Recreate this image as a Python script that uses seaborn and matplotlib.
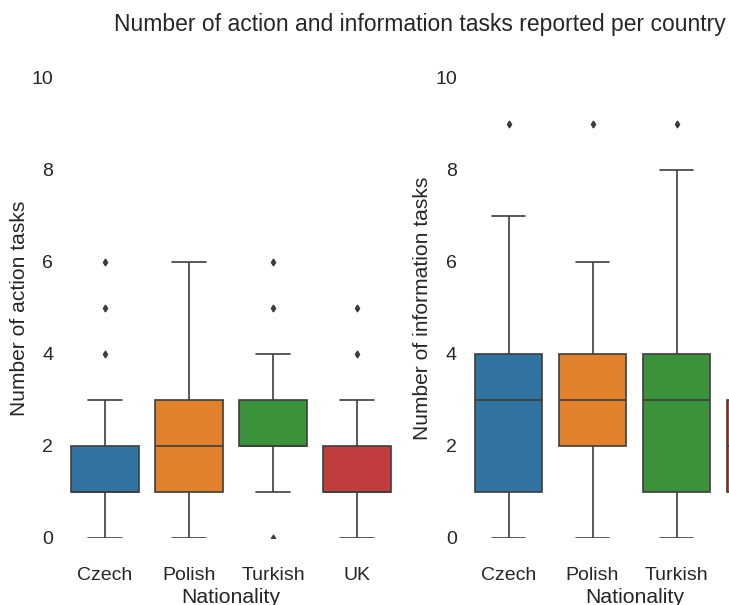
import numpy as np
import pandas as pd
import matplotlib
matplotlib.use("Agg")
import matplotlib.pyplot as plt
import seaborn as sns

# Respondents per country, counted by number of tasks reported (0, 1, 2, ...)
nationalities = ["Czech", "Polish", "Turkish", "UK"]
action_czech = [5, 20, 15, 6, 1, 1, 1]
action_polish = [4, 12, 12, 10, 5, 3, 2]
action_turkish = [1, 5, 20, 15, 5, 1, 1]
action_uk = [4, 18, 14, 5, 1, 1]
info_czech = [3, 10, 7, 10, 9, 4, 3, 2, 0, 1]
info_polish = [2, 6, 10, 12, 10, 4, 3, 0, 0, 1]
info_turkish = [3, 10, 8, 9, 10, 3, 2, 1, 1, 1]
info_uk = [3, 10, 12, 10, 5, 2, 1]


def expand(counts_by_country, column):
    rows = []
    for country, counts in zip(nationalities, counts_by_country):
        values = np.repeat(np.arange(len(counts)), counts)
        rows.append(pd.DataFrame({"Nationality": country, column: values}))
    return pd.concat(rows, ignore_index=True)


action_df = expand([action_czech, action_polish, action_turkish, action_uk],
                   "Number of action tasks")
info_df = expand([info_czech, info_polish, info_turkish, info_uk],
                 "Number of information tasks")

sns.set_theme(style="white")
plt.rcParams["font.family"] = ["Liberation Sans", "DejaVu Sans"]
plt.rcParams["text.color"] = "#262626"
plt.rcParams["axes.labelcolor"] = "#262626"
plt.rcParams["xtick.color"] = "#262626"
plt.rcParams["ytick.color"] = "#262626"

W, H = 729, 605
fig = plt.figure(figsize=(W / 100, H / 100), dpi=100)
ax1 = fig.add_axes([63 / W, (H - 538) / H, 336 / W, 460 / H])
ax2 = fig.add_axes([466.5 / W, (H - 538) / H, 336 / W, 460 / H])

line_grey = "#3d3d3d"
box_kws = dict(
    hue="Nationality", palette="tab10", legend=False, width=0.8,
    linecolor=line_grey, linewidth=1.2, fliersize=3.5,
    flierprops={"marker": "d", "markerfacecolor": line_grey,
                "markeredgecolor": line_grey},
)

sns.boxplot(data=action_df, x="Nationality", y="Number of action tasks",
            ax=ax1, **box_kws)
sns.boxplot(data=info_df, x="Nationality", y="Number of information tasks",
            ax=ax2, **box_kws)

for ax in (ax1, ax2):
    ax.set_ylim(0, 10)
    ax.set_xlim(-0.5, 3.5)
    ax.set_yticks([0, 2, 4, 6, 8, 10])
    ax.tick_params(axis="y", labelsize=14, pad=7, length=0)
    ax.tick_params(axis="x", labelsize=14, pad=21, length=0)
    ax.xaxis.label.set_size(15.3)
    ax.yaxis.label.set_size(15.1)
    ax.xaxis.labelpad = 3
    ax.yaxis.labelpad = 2
    sns.despine(ax=ax, left=True, bottom=True)

fig.suptitle("Number of action and information tasks reported per country",
             x=420 / W, y=1 - 24 / H, va="center", fontsize=16.5)

fig.savefig("out.png", dpi=100)
